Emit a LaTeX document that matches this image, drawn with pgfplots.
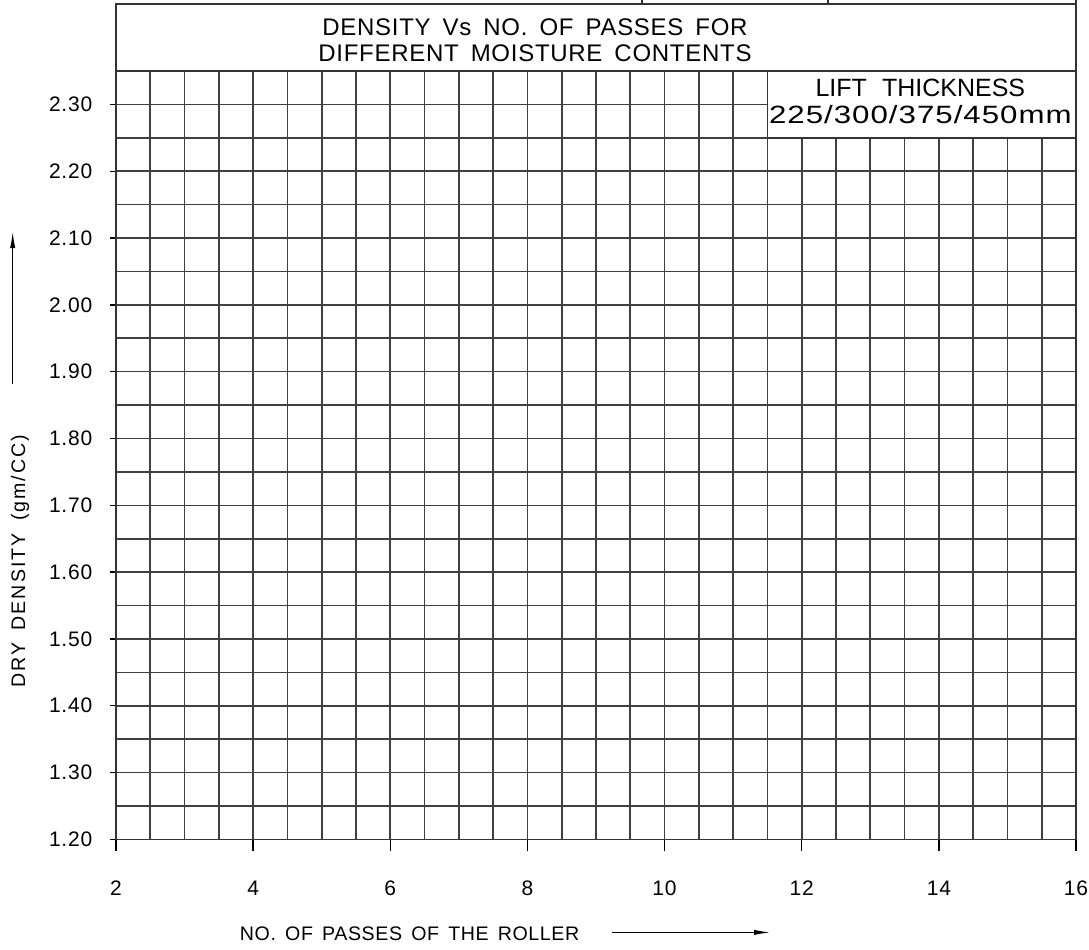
\documentclass[border=0pt]{standalone}
\usepackage{fontspec}
\setmainfont{Liberation Sans}
\newfontfamily\cadwide[FakeStretch=1.25]{Liberation Sans}
\usepackage{pgfplots}
\pgfplotsset{compat=1.18}
\usetikzlibrary{arrows.meta}

% CAD-like lettering: Liberation Sans, opened up, with wide word gaps
\newcommand{\cadtext}[3]{\addfontfeature{LetterSpace=#1}\spaceskip=#2\relax #3}

\begin{document}
\begin{tikzpicture}
% 1px of the sheet = 0.5pt
\useasboundingbox (-58pt,-55pt) rectangle (486.5pt,419.7pt);
\begin{axis}[
    at={(0,0)}, anchor=south west,
    scale only axis,
    width=480pt, height=384.2pt,
    xmin=2, xmax=16,
    ymin=1.2, ymax=2.35,
    xtick={2,4,...,16},
    minor x tick num=3,
    ytick={1.2,1.3,...,2.3},
    minor y tick num=1,
    xtick pos=bottom, ytick pos=left,
    tick align=outside,
    xtick style={/pgfplots/major tick length=6pt, black, line width=0.7pt},
    ytick style={/pgfplots/major tick length=3pt, black, line width=0.7pt},
    minor tick length=0pt,
    grid=both,
    major grid style={black!75, line width=0.8pt},
    minor grid style={black!75, line width=0.8pt},
    axis line style={black!80, line width=0.8pt},
    /pgf/number format/assume math mode=true,
    tick label style={font=\fontsize{10.5}{12}\selectfont\addfontfeature{LetterSpace=4}},
    yticklabel style={/pgf/number format/.cd, fixed, fixed zerofill, precision=2},
    yticklabel shift=4pt,
    xticklabel style={anchor=center},
    xticklabel shift=20pt,
    clip=false,
]
% title block
\draw[black!80, line width=0.8pt] (axis cs:2,2.35) rectangle (axis cs:16,2.45);
\draw[black!80, line width=0.8pt] (axis cs:9.667,2.45) -- (axis cs:9.667,2.46);
\draw[black!80, line width=0.8pt] (axis cs:12.379,2.45) -- (axis cs:12.379,2.46);
\draw[black!80, line width=0.8pt] (axis cs:16,2.45) -- (axis cs:16,2.46);
\node at (axis cs:8.11,2.416) {\fontsize{12}{14}\selectfont\cadtext{3}{6pt}{DENSITY Vs NO. OF PASSES FOR}};
\node at (axis cs:8.11,2.377) {\fontsize{12}{14}\selectfont\cadtext{3}{6pt}{DIFFERENT MOISTURE CONTENTS}};
% lift thickness box
\fill[white] (axis cs:11.5,2.25) rectangle (axis cs:16,2.35);
\draw[black!80, line width=0.8pt] (axis cs:11.5,2.25) rectangle (axis cs:16,2.35);
\node at (axis cs:13.73,2.3254) {\fontsize{12.5}{14}\selectfont\cadtext{0}{7.6pt}{LIFT THICKNESS}};
\node at (axis cs:13.73,2.285) {\cadwide\fontsize{12.5}{14}\selectfont\cadtext{4}{3.5pt}{225/300/375/450mm}};
% axis titles with arrows
\node at (axis cs:6.282,1.0593) {\fontsize{9.8}{12}\selectfont\cadtext{3}{4.6pt}{NO. OF PASSES OF THE ROLLER}};
\draw[-{Latex[length=8pt,width=2.6pt]}, line width=0.5pt] (axis cs:9.233,1.0608) -- (axis cs:11.538,1.0608);
\node[rotate=90] at (axis cs:0.6,1.616) {\fontsize{9.8}{12}\selectfont\cadtext{10}{6.3pt}{DRY DENSITY (gm/CC)}};
\draw[-{Latex[length=8pt,width=2.6pt]}, line width=0.5pt] (axis cs:0.4936,1.881) -- (axis cs:0.4936,2.109);
\end{axis}
\end{tikzpicture}
\end{document}
